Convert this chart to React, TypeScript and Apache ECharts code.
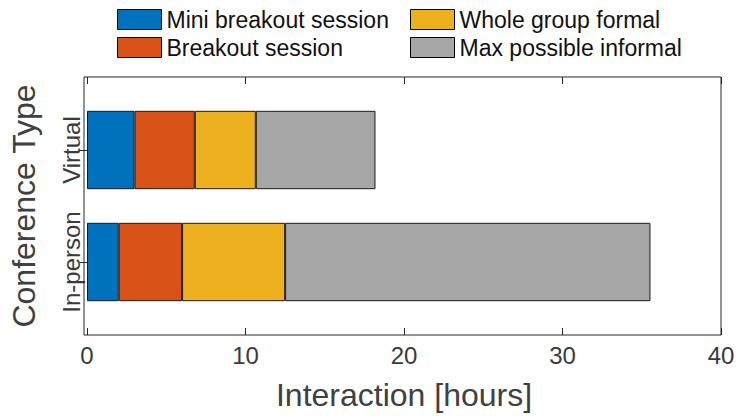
import React, { useEffect, useRef } from "react";
import * as echarts from "echarts";

const categories = ["In-person", "Virtual"];
const seriesNames = ["Mini breakout session", "Breakout session", "Whole group formal", "Max possible informal"];
const miniBreakout = [2.0, 3.0];
const breakout = [4.0, 3.8];
const wholeGroup = [6.5, 3.85];
const maxInformal = [23.05, 7.55];
const xTicks = [0, 10, 20, 30, 40];

const colors = ["#0072BD", "#D95319", "#EDB120", "#A6A6A6"];
const FONT = "'Liberation Sans', Arial, Helvetica, sans-serif";
const AX = "#262626";

export default function App() {
  const ref = useRef<HTMLDivElement>(null);
  useEffect(() => {
    if (!ref.current) return;
    const chart = echarts.init(ref.current, null, { renderer: "svg" });
    const values = [miniBreakout, breakout, wholeGroup, maxInformal];
    const L = 84, R = 721, T = 77, B = 335;
    const legendBase = {
      orient: "vertical",
      top: 8,
      padding: 0,
      itemWidth: 44,
      itemHeight: 20,
      itemGap: 5,
      icon: "rect",
      textStyle: { fontSize: 23, color: "#111", fontFamily: FONT, lineHeight: 20 },
      itemStyle: { borderColor: "#000", borderWidth: 1 },
    };
    const option: any = {
      animation: false,
      textStyle: { fontFamily: FONT },
      legend: [
        { ...legendBase, left: 117, data: [seriesNames[0], seriesNames[1]] },
        { ...legendBase, left: 410, data: [seriesNames[2], seriesNames[3]] },
      ],
      grid: { left: L, right: 742 - R, top: 94, bottom: 416 - 318, containLabel: false },
      xAxis: [
        {
          type: "value",
          position: "bottom",
          offset: 17,
          min: xTicks[0],
          max: xTicks[xTicks.length - 1],
          interval: 10,
          axisLine: { show: false },
          axisTick: { show: true, inside: true, length: 7, lineStyle: { color: AX, width: 1 } },
          splitLine: { show: false },
          axisLabel: { fontSize: 24, color: "#3a3a3a", margin: 8, fontFamily: FONT },
          name: "Interaction [hours]",
          nameLocation: "middle",
          nameGap: 44,
          nameTextStyle: { fontSize: 32, color: "#404040", fontFamily: FONT },
        },
        {
          type: "value",
          position: "top",
          offset: 17,
          min: xTicks[0],
          max: xTicks[xTicks.length - 1],
          interval: 10,
          axisLine: { show: false },
          axisTick: { show: true, inside: true, length: 7, lineStyle: { color: AX, width: 1 } },
          splitLine: { show: false },
          axisLabel: { show: false },
        },
      ],
      yAxis: [
        {
          type: "category",
          position: "left",
          data: categories,
          axisLine: { show: false },
          axisTick: { show: true, inside: true, alignWithLabel: true, length: 7, lineStyle: { color: AX } },
          axisLabel: { interval: 0, rotate: 90, fontSize: 24, color: "#3a3a3a", margin: 4, fontFamily: FONT },
          name: "Conference Type",
          nameLocation: "middle",
          nameGap: 47,
          nameRotate: 90,
          nameTextStyle: { fontSize: 32, color: "#404040", fontFamily: FONT },
        },
        {
          type: "category",
          position: "right",
          data: categories,
          axisLine: { show: false },
          axisTick: { show: true, inside: true, alignWithLabel: true, length: 7, lineStyle: { color: AX } },
          axisLabel: { show: false },
        },
      ],
      series: seriesNames.map((name, i) => ({
        name,
        type: "bar",
        stack: "total",
        xAxisIndex: 0,
        yAxisIndex: 0,
        barWidth: "70%",
        data: values[i],
        itemStyle: { color: colors[i], borderColor: "#1a1a1a", borderWidth: 1 },
      })),
      graphic: [
        {
          type: "rect",
          shape: { x: L, y: T, width: R - L, height: B - T },
          style: { fill: "none", stroke: AX, lineWidth: 1 },
          z: 100,
          silent: true,
        },
      ],
    };
    chart.setOption(option);
    return () => chart.dispose();
  }, []);
  return <div ref={ref} style={{ width: 742, height: 416, position: "absolute", left: 0, top: 0 }} />;
}
